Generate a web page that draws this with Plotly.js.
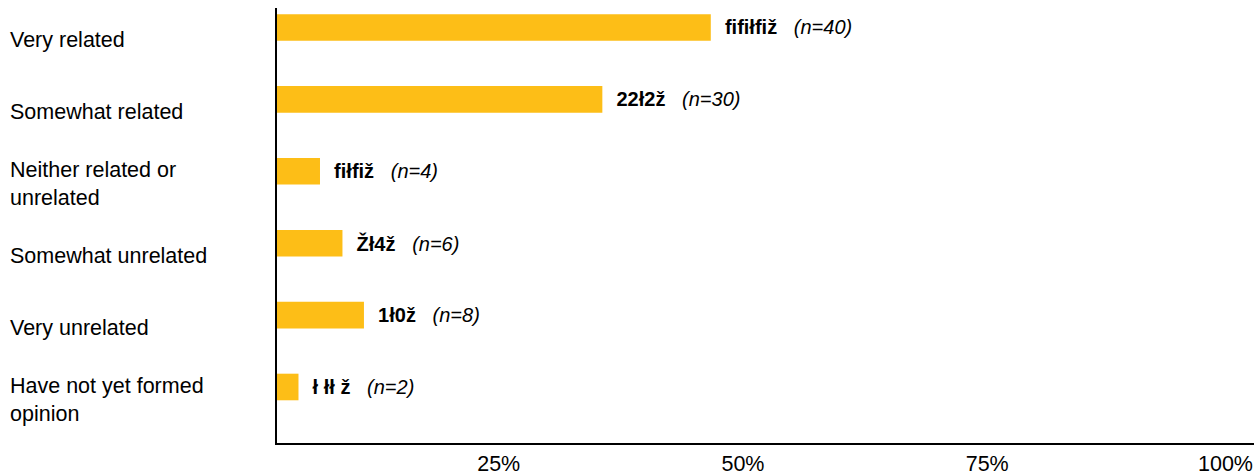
<!DOCTYPE html>
<html><head><meta charset="utf-8">
<script src="https://cdn.plot.ly/plotly-3.0.1.min.js"></script>
<style>html,body{margin:0;padding:0;background:#fff;}#chart{width:1260px;height:475px;}</style>
</head><body><div id="chart"></div>
<script>
const categories = ["Very related", "Somewhat related", "Neither related or<br>unrelated", "Somewhat unrelated", "Very unrelated", "Have not yet formed<br>opinion"];
const percents = [44.4, 33.3, 4.4, 6.7, 8.9, 2.2];
const counts = [40, 30, 4, 6, 8, 2];
const valueLabels = ["fifiłfiž", "22ł2ž", "fiłfiž", "Žł4ž", "1ł0ž", "ł łł ž"];
const tickValues = [25, 50, 75, 100];
const tickLabels = ["25%", "50%", "75%", "100%"];

const idx = categories.map((c, i) => i);
const texts = valueLabels.map((v, i) => "\u00a0\u00a0<b>" + v + "</b>\u00a0\u00a0\u00a0<i>(n=" + counts[i] + ")</i>");

const trace = {
  type: 'bar', orientation: 'h',
  x: percents, y: idx,
  width: 0.37,
  marker: {color: '#FDBE17'},
  text: texts, textposition: 'outside', cliponaxis: false,
  textfont: {family: 'Liberation Sans, Arial, sans-serif', size: 20, color: '#000'},
  hoverinfo: 'none'
};

const annotations = categories.map((c, i) => ({
  xref: 'paper', yref: 'y', x: -0.2755, y: i, yshift: -13,
  xanchor: 'left', yanchor: 'middle', align: 'left',
  text: c, showarrow: false,
  font: {family: 'Liberation Sans, Arial, sans-serif', size: 21.5, color: '#000'}
}));

const layout = {
  width: 1260, height: 475,
  margin: {l: 277, r: 6, t: 8, b: 32},
  paper_bgcolor: '#fff', plot_bgcolor: '#fff',
  showlegend: false,
  xaxis: {
    range: [0, 100], tickvals: tickValues, ticktext: tickLabels,
    showgrid: false, zeroline: false,
    showline: true, linecolor: '#000', linewidth: 2,
    ticks: '', ticklabelposition: 'outside left',
    tickfont: {family: 'Liberation Sans, Arial, sans-serif', size: 21.5, color: '#000'}
  },
  yaxis: {
    range: [5.779, -0.271], showticklabels: false,
    showgrid: false, zeroline: false,
    showline: true, linecolor: '#000', linewidth: 2, ticks: ''
  },
  annotations: annotations
};

Plotly.newPlot('chart', [trace], layout, {displayModeBar: false, staticPlot: true});
</script></body></html>
